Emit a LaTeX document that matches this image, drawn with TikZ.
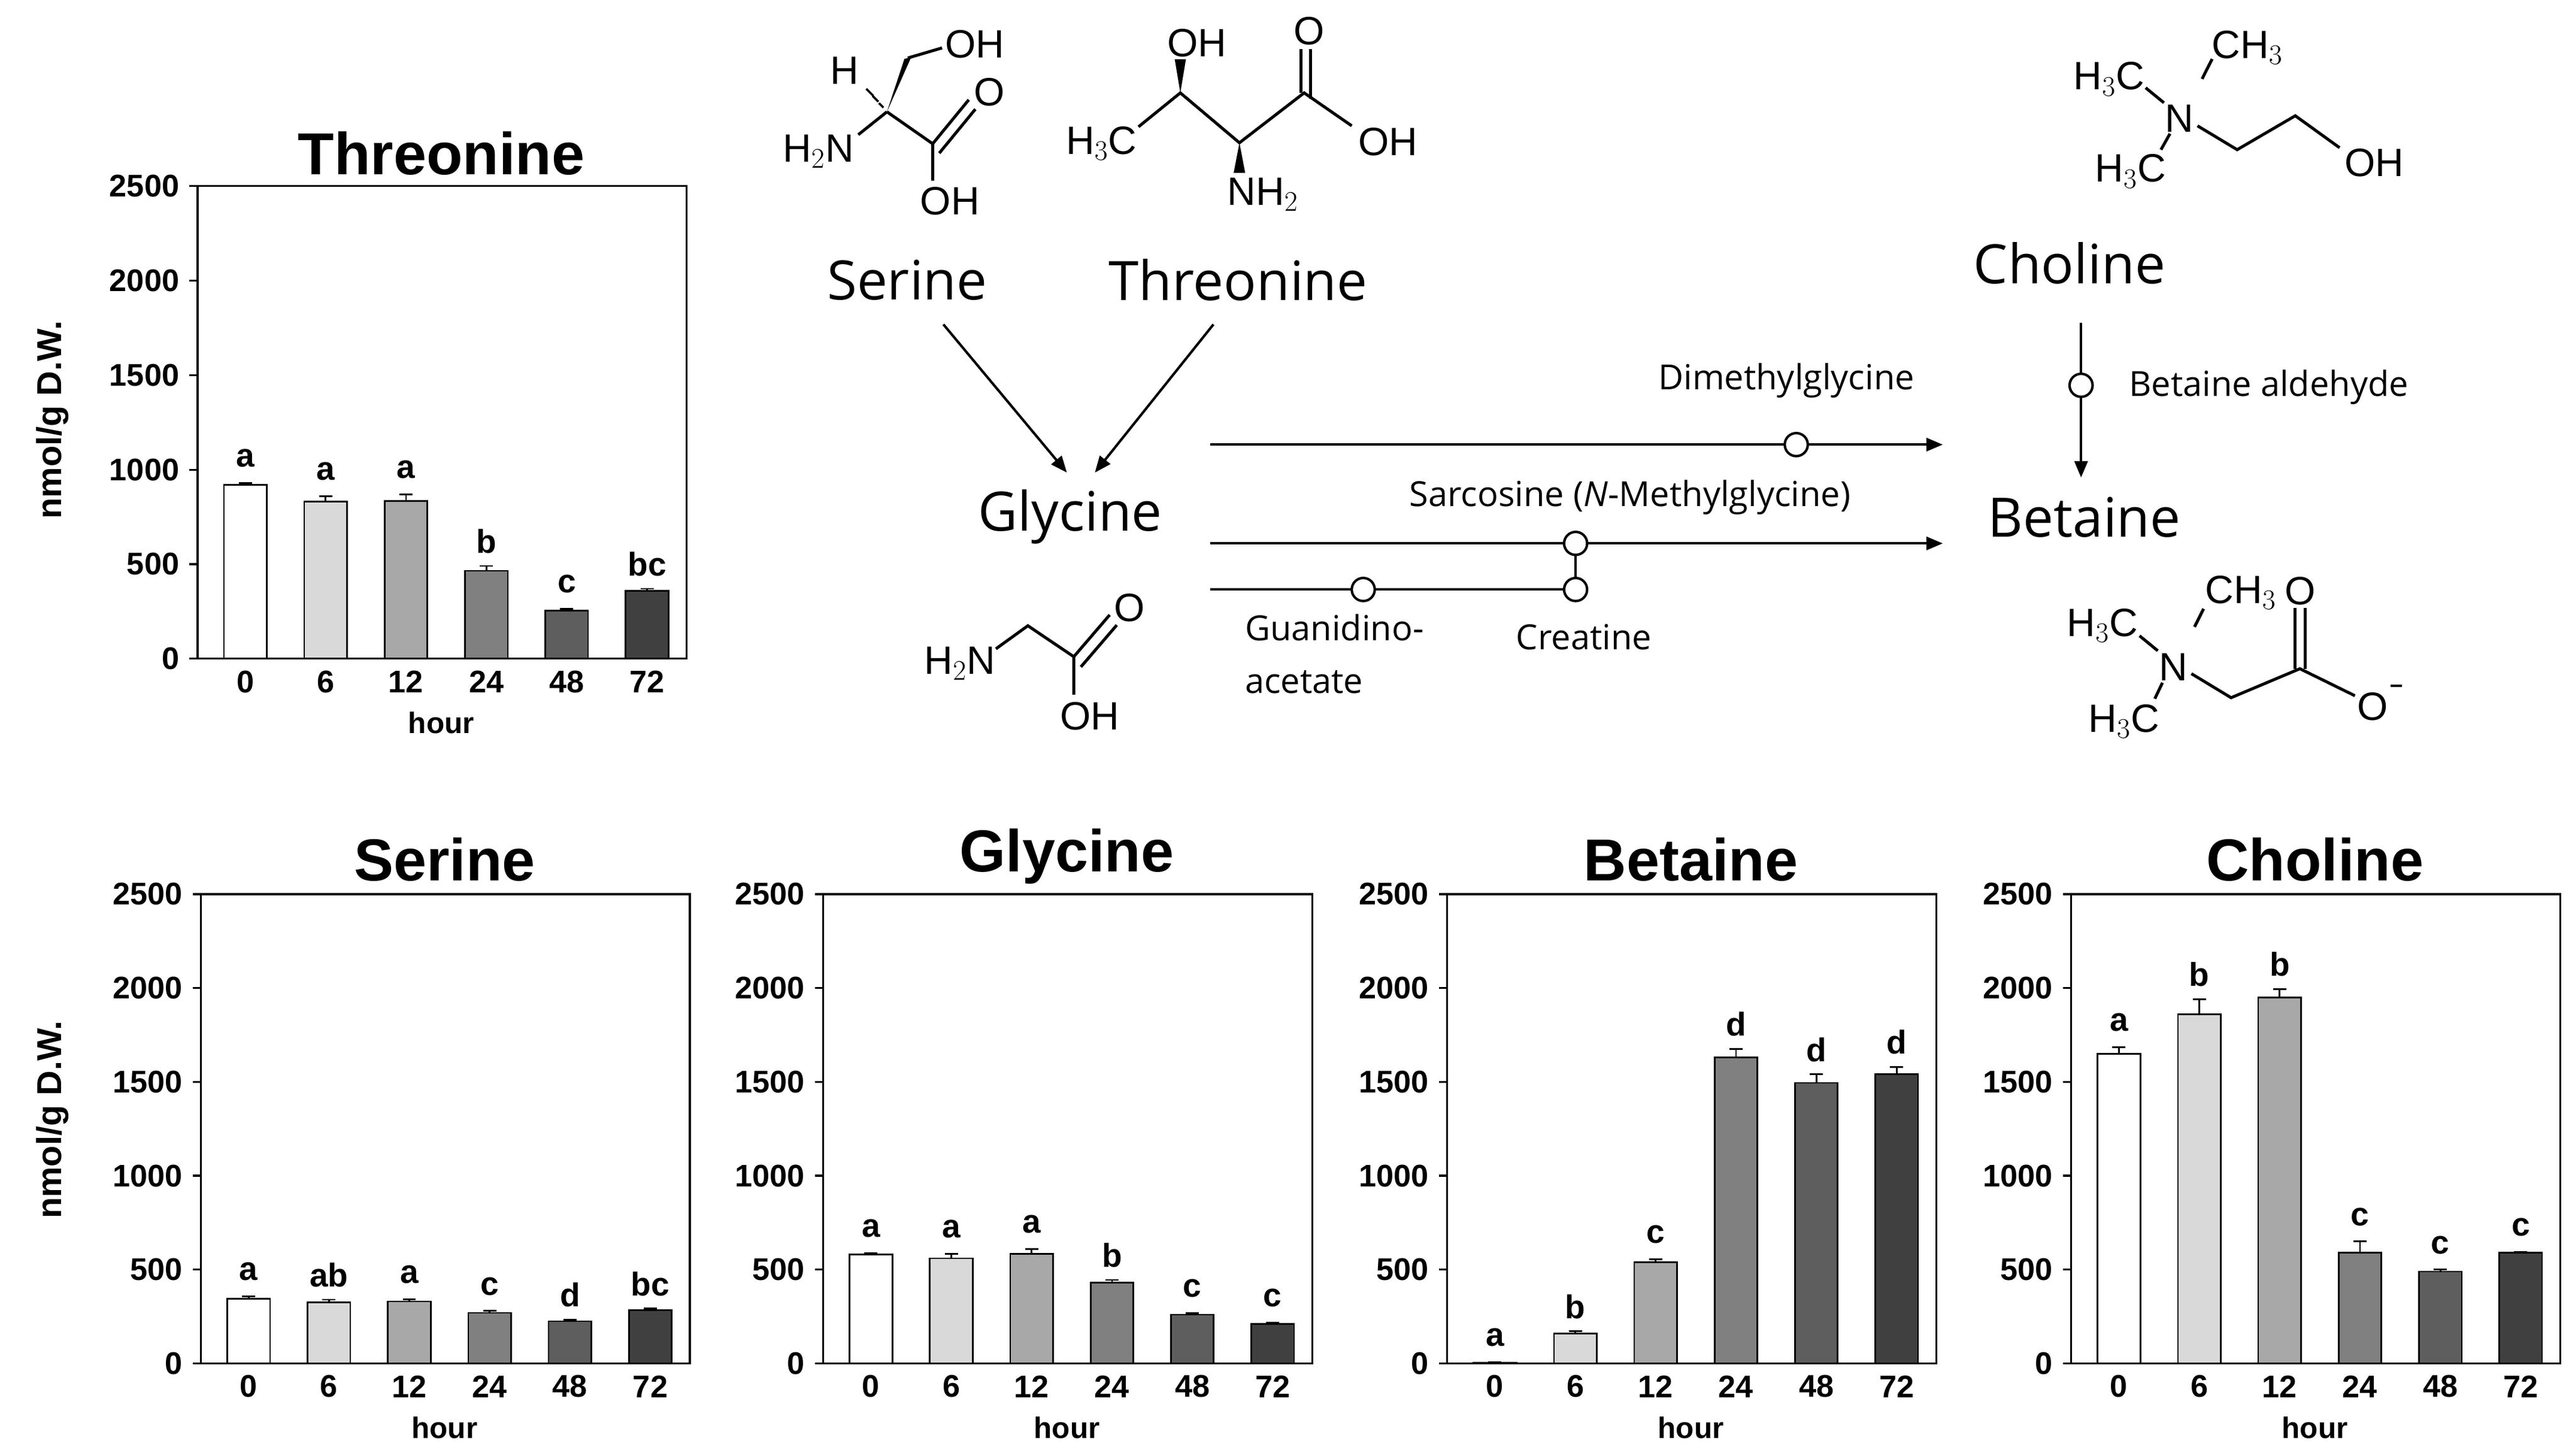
\documentclass[tikz,border=0pt]{standalone}
\usepackage{fontspec}
\setmainfont{Liberation Sans}
\newfontfamily\pathfont{Open Sans}
\usetikzlibrary{arrows.meta,calc}
\definecolor{c0}{gray}{1}
\definecolor{c1}{gray}{0.85}
\definecolor{c2}{gray}{0.66}
\definecolor{c3}{gray}{0.50}
\definecolor{c4}{gray}{0.37}
\definecolor{c5}{gray}{0.25}
\tikzset{
 tick/.style={font=\fontsize{19}{20}\selectfont\bfseries,inner sep=1pt},
 lbl/.style={font=\fontsize{20}{22}\selectfont\bfseries,inner sep=1pt},
 ctitle/.style={font=\fontsize{36}{38}\selectfont\bfseries,inner sep=0pt},
 chem/.style={font=\fontsize{24}{26}\selectfont,inner sep=0pt},
 bond/.style={line width=1.8pt},
 path label/.style={font=\pathfont\fontsize{33}{34}\selectfont,inner sep=2pt},
 small label/.style={font=\pathfont\fontsize{21}{24}\selectfont,inner sep=1pt,align=left},
 conn/.style={line width=1.5pt},
 arr/.style={line width=1.5pt,-{Triangle[length=10pt,width=8pt]}},
 dot/.style={circle,draw,fill=white,line width=1.5pt,minimum size=14pt,inner sep=0pt},
}
\newcommand\mychart[6]{%
 \draw[line width=1.2pt] (#1,#2) rectangle (#1+297,#3);
 \foreach \t in {0,500,1000,1500,2000,2500}{
   \pgfmathsetmacro\yy{#3-(#3-#2)/2500*\t}
   \draw[line width=1.2pt] (#1,\yy) -- (#1-5,\yy);
   \node[tick,anchor=east] at (#1-10,\yy) {\t};}
 \foreach \h/\v/\e/\l/\c [count=\i] in {#4}{
   \pgfmathsetmacro\xc{#1+29+(\i-1)*48.8}
   \pgfmathsetmacro\yt{#3-(#3-#2)/2500*\v}
   \pgfmathsetmacro\ye{#3-(#3-#2)/2500*(\v+\e)}
   \draw[line width=1pt,fill=\c] (\xc-13,#3) rectangle (\xc+13,\yt);
   \draw[line width=1pt] (\xc,\yt) -- (\xc,\ye) (\xc-4,\ye) -- (\xc+4,\ye);
   \node[lbl] at (\xc,\ye-15) {\l};
   \node[tick] at (\xc,#3+14) {\h};}
 \node[ctitle] at (#1+148,#5) {#6};
 \node[tick,font=\fontsize{18}{20}\selectfont\bfseries] at (#1+148,#3+39) {hour};
}
\begin{document}
\begin{tikzpicture}[x=1pt,y=-1pt]
\useasboundingbox (0,0) rectangle (1564,884);
% charts
\mychart{120}{113}{400}{0/920/10/a/c0,6/830/30/a/c1,12/835/35/a/c2,24/465/25/b/c3,48/255/10/c/c4,72/360/10/bc/c5}{93}{Threonine}
\mychart{122}{543}{828}{0/345/12/a/c0,6/325/15/ab/c1,12/330/12/a/c2,24/270/10/c/c3,48/225/8/d/c4,72/285/8/bc/c5}{522}{Serine}
\mychart{500}{543}{828}{0/580/8/a/c0,6/560/25/a/c1,12/585/25/a/c2,24/430/15/b/c3,48/260/8/c/c4,72/210/8/c/c5}{520}{Glycine}
\mychart{879}{543}{828}{0/5/3/a/c0,6/160/12/b/c1,12/540/15/c/c2,24/1630/45/d/c3,48/1495/45/d/c4,72/1540/40/d/c5}{522}{Betaine}
\mychart{1258}{543}{828}{0/1650/35/a/c0,6/1860/80/b/c1,12/1950/45/b/c2,24/590/60/c/c3,48/490/10/c/c4,72/590/5/c/c5}{522}{Choline}
\node[lbl,rotate=90,font=\fontsize{21}{22}\selectfont\bfseries] at (32,255) {nmol/g D.W.};
\node[lbl,rotate=90,font=\fontsize{21}{22}\selectfont\bfseries] at (32,680) {nmol/g D.W.};
% pathway
\node[path label] (ser) at (551,170) {Serine};
\node[path label] (thr) at (752,170) {Threonine};
\node[path label] (gly) at (650,314) {Glycine};
\node[path label] (cho) at (1257,160) {Choline};
\node[path label] (bet) at (1266,314) {Betaine};
\coordinate (s1) at (573,197); \coordinate (s2) at (648,287);
\coordinate (t1) at (737,197); \coordinate (t2) at (665,287);
\draw[arr] (s1) -- (s2);
\draw[arr] (t1) -- (t2);
\coordinate (a1) at (735,270); \coordinate (a2) at (1180,270);
\coordinate (b1) at (735,330); \coordinate (b2) at (1180,330);
\coordinate (g1) at (735,358);
\draw[arr] (a1) -- (a2);
\draw[arr] (b1) -- (b2);
\node[dot] (dmg) at (1091,270) {};
\coordinate (crec) at (957,358); \coordinate (sarc) at (957,330);
\draw[conn] (g1) -- (crec) -- (sarc);
\node[dot] (gaa) at (828,358) {};
\node[dot] (cre) at (957,358) {};
\node[dot] (sar) at (957,330) {};
\node[small label] (ldmg) at (1085,231) {Dimethylglycine};
\node[small label] (lsar) at (990,302) {Sarcosine (\textit{N}-Methylglycine)};
\node[small label,anchor=north west,font=\pathfont\fontsize{21}{32}\selectfont] (lgaa) at (755,372) {Guanidino-\\acetate};
\node[small label] (lcre) at (962,387) {Creatine};
\coordinate (c1) at (1264,196); \coordinate (c2) at (1264,290);
\draw[arr] (c1) -- (c2);
\node[dot] (bal) at (1264,234) {};
\node[small label,anchor=west] (lbal) at (1292,235) {Betaine aldehyde};
% serine structure
\fill (538.7,67.9) -- (549.3,35.8) -- (553.5,34.6) -- cycle;
\draw[bond] (551.4,35.2) -- (572.2,29.1);
\node[chem] at (592,27) {OH};
\node[chem] at (513,43) {H};
\foreach \f in {0.25,0.5,0.75}{
 \draw[line width=1.3pt] ($(538.7,67.9)!\f!(524.8,52.1)+(-1.5*\f-1,-1.5*\f-1)$) -- ($(538.7,67.9)!\f!(524.8,52.1)+(1.5*\f+1,1.5*\f+1)$);}
\draw[bond] (538.7,67.9) -- (521.3,81.8);
\node[chem] at (497,92) {H$_2$N};
\draw[bond] (538.7,67.9) -- (566.5,87.3) -- (566.5,109.7);
\draw[bond] (566.5,87.3) -- (588.4,60.6);
\draw[bond] (570.5,93) -- (592.4,66.3);
\node[chem] at (601,56) {O};
\node[chem] at (577,122) {OH};
% threonine structure
\node[chem] at (669,87) {H$_3$C};
\draw[bond] (691.5,77) -- (716.9,56.4) -- (752.8,86.7) -- (792.1,56.4) -- (821,76.4);
\fill (716.9,56.4) -- (713.5,36) -- (720.3,36) -- cycle;
\node[chem] at (727,26) {OH};
\fill (752.8,86.7) -- (749.3,105) -- (756.3,105) -- cycle;
\node[chem] at (767,118) {NH$_2$};
\draw[bond] (790.2,56.4) -- (790.2,29.7);
\draw[bond] (796,60) -- (796,29.7);
\node[chem] at (795,19) {O};
\node[chem] at (843,86) {OH};
% glycine structure
\node[chem] at (583,403) {H$_2$N};
\draw[bond] (604.9,394) -- (624.3,380) -- (652.2,398.8) -- (652.2,421.9);
\draw[bond] (652.2,398.8) -- (674,373.4);
\draw[bond] (656.5,405) -- (678.3,379.6);
\node[chem] at (686,369) {O};
\node[chem] at (662,435) {OH};
% choline structure
\node[chem] at (1323.6,72) {N};
\node[chem] at (1281,48) {H$_3$C};
\draw[bond] (1303.2,53.3) -- (1314.3,62.4);
\node[chem] at (1365,29) {CH$_3$};
\draw[bond] (1337.5,47.9) -- (1343.6,35.8);
\node[chem] at (1294,104) {H$_3$C};
\draw[bond] (1318,81.2) -- (1312.5,90.9);
\draw[bond] (1334.7,76.4) -- (1358.8,90.9) -- (1394.1,70.3) -- (1421,89.7);
\node[chem] at (1442,99) {OH};
% betaine structure
\node[chem] at (1320,405) {N};
\node[chem] at (1277,380) {H$_3$C};
\draw[bond] (1299.5,386.1) -- (1310.6,395.2);
\node[chem] at (1361,360) {CH$_3$};
\draw[bond] (1338.4,369.7) -- (1332.9,380.7);
\node[chem] at (1290,438) {H$_3$C};
\draw[bond] (1313.4,414.6) -- (1308.8,424.3);
\draw[bond] (1331,409.1) -- (1355.1,423.7) -- (1396.9,406.1) -- (1430.3,422.5);
\draw[bond] (1394.1,406.1) -- (1394.1,369.1);
\draw[bond] (1400,406.1) -- (1400,369.1);
\node[chem] at (1397,359) {O};
\node[chem] at (1441,429) {O};
\draw[line width=1.5pt] (1452,416.4) -- (1459,416.4);
\end{tikzpicture}
\end{document}
